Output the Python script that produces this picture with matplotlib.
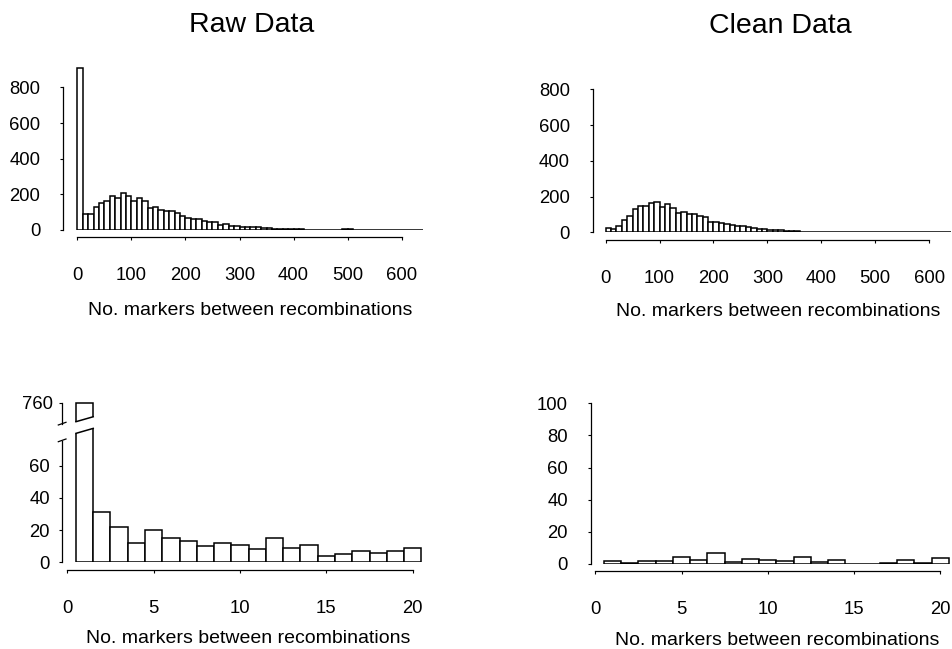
import numpy as np
import matplotlib.pyplot as plt
from matplotlib.patches import Polygon

plt.rcParams['font.family'] = ['Liberation Sans', 'DejaVu Sans']

# histogram data (bins of 10 markers, 0..640)
bin_edges = np.arange(0, 640, 10)
raw_counts = [910, 88, 92, 128, 154, 165, 188, 178, 208, 193,
              165, 178, 162, 122, 128, 111, 109, 105, 98, 78,
              66, 64, 61, 53, 45, 45, 26, 33, 23, 21,
              19, 18, 17, 15, 13, 9, 7, 5, 4, 4,
              3, 3, 2, 2, 2, 1, 1, 2, 2, 4,
              3, 1, 1, 1, 1, 1, 2, 1, 1, 1,
              1, 1, 1, 1]
clean_counts = [26, 19, 35, 67, 93, 130, 149, 149, 166, 170,
                140, 156, 137, 108, 113, 101, 104, 91, 87, 60,
                55, 54, 47, 42, 37, 35, 27, 26, 21, 16,
                14, 13, 11, 9, 8, 6, 4, 3, 3, 3,
                2, 2, 2, 1, 1, 1, 1, 1, 2, 3,
                2, 1, 1, 1, 1, 1, 1, 1, 1, 1,
                1, 1, 1, 1]

# zoom on 1..20 markers
markers = np.arange(1, 21)
raw_small = [760, 31, 22, 12, 20, 15, 13, 10, 12, 11,
             8, 15, 9, 11, 4, 5, 7, 6, 7, 9]
clean_small = [2, 0.8, 1.9, 1.9, 4.6, 2.7, 6.6, 1.5, 2.9, 2.5,
               1.7, 4.4, 1.5, 2.3, 0, 0.3, 0.4, 2.3, 0.6, 3.9]

xlabel = 'No. markers between recombinations'
W, H = 952, 649
bar_kw = dict(facecolor='white', edgecolor='black', linewidth=1.1)


def px_axes(left, bottom, width, height):
    # axes placed in pixel units of the 952x649 figure
    return fig.add_axes([left / W, (H - bottom) / H, width / W, height / H])


def style(ax, xb, yb, ypad):
    ax.spines['top'].set_visible(False)
    ax.spines['right'].set_visible(False)
    ax.spines['bottom'].set_position(('outward', 5.3))
    ax.spines['bottom'].set_bounds(*xb)
    ax.spines['left'].set_bounds(*yb)
    for s in ['bottom', 'left']:
        ax.spines[s].set_linewidth(0.9)
    ax.tick_params(axis='x', length=2.5, width=0.8, pad=19, labelsize=13.3)
    ax.tick_params(axis='y', length=2.5, width=0.8, pad=ypad, labelsize=13.3)


fig = plt.figure(figsize=(9.52, 6.49), dpi=100)

# top left: raw data
ax1 = px_axes(63.3, 230, 360, 164)
ax1.bar(bin_edges, raw_counts, width=10, align='edge', **bar_kw)
ax1.set_xlim(-26, 640)
ax1.set_ylim(0, 920)
style(ax1, (0, 600), (0, 800), 14)
ax1.set_xticks(range(0, 601, 100))
ax1.set_yticks(range(0, 801, 200))
ax1.set_xlabel(xlabel, fontsize=14)
ax1.xaxis.set_label_coords(0.5186, -0.488)
ax1.xaxis.label.set_va('center')

# top right: clean data
ax2 = px_axes(592.7, 232.3, 359.3, 146.6)
ax2.bar(bin_edges, clean_counts, width=10, align='edge', **bar_kw)
ax2.set_xlim(-24.1, 642.5)
ax2.set_ylim(0, 820)
style(ax2, (0, 600), (0, 800), 14)
ax2.set_xticks(range(0, 601, 100))
ax2.set_yticks(range(0, 801, 200))
ax2.set_xlabel(xlabel, fontsize=14)
ax2.xaxis.set_label_coords(0.5157, -0.5416)
ax2.xaxis.label.set_va('center')

# bottom left: raw data, broken y axis
axl = px_axes(61.7, 562.3, 360.5, 135.2)
axu = px_axes(61.7, 424, 360.5, 23)
bars_l = axl.bar(markers, raw_small, width=1, **bar_kw)
bars_u = axu.bar(markers, raw_small, width=1, **bar_kw)
for ax in (axl, axu):
    ax.set_xlim(-0.325, 20.55)
axl.set_ylim(0, 84)
axu.set_ylim(748, 761)
style(axl, (0, 20), (0, 75.5), 6)
axl.set_xticks(range(0, 21, 5))
axl.set_yticks(range(0, 61, 20))
axl.set_xlabel(xlabel, fontsize=14)
axl.xaxis.set_label_coords(0.5168, -0.56)
axl.xaxis.label.set_va('center')

for s in ['top', 'right', 'bottom']:
    axu.spines[s].set_visible(False)
axu.spines['left'].set_bounds(748, 760)
axu.spines['left'].set_linewidth(0.9)
axu.set_xticks([])
axu.set_yticks([760])
axu.tick_params(axis='y', length=2.5, width=0.8, pad=4, labelsize=13.3)

# slanted cut of the tall bar
b = bars_l[0]
x0, x1 = b.get_x(), b.get_x() + b.get_width()
slope_l = (83.2 - 80.1) / (x1 - x0)
clip_l = Polygon([(x0 - 0.2, 0), (x1 + 0.2, 0),
                  (x1 + 0.2, 83.2 + 0.2 * slope_l), (x0 - 0.2, 80.1 - 0.2 * slope_l)],
                 closed=True, transform=axl.transData)
b.set_clip_path(clip_l)
axl.plot([x0, x1], [80.1, 83.2], color='black', lw=1.1)

b = bars_u[0]
slope_u = (752.1 - 749.3) / (x1 - x0)
clip_u = Polygon([(x0 - 0.2, 749.3 - 0.2 * slope_u), (x1 + 0.2, 752.1 + 0.2 * slope_u),
                  (x1 + 0.2, 770), (x0 - 0.2, 770)],
                 closed=True, transform=axu.transData)
b.set_clip_path(clip_u)
axu.plot([x0, x1], [749.3, 752.1], color='black', lw=1.1)

# break marks on the y axis
axu.plot([-0.0094, 0.0119], [-0.043, 0.074], transform=axu.transAxes,
         clip_on=False, color='black', lw=0.9)
axl.plot([-0.0094, 0.0119], [0.892, 0.912], transform=axl.transAxes,
         clip_on=False, color='black', lw=0.9)

# bottom right: clean data
ax4 = px_axes(591, 564, 361, 160.7)
ax4.bar(markers, clean_small, width=1, **bar_kw)
ax4.set_xlim(-0.25, 20.68)
ax4.set_ylim(0, 100)
style(ax4, (0, 20), (0, 100), 14)
ax4.set_xticks(range(0, 21, 5))
ax4.set_yticks(range(0, 101, 20))
ax4.set_xlabel(xlabel, fontsize=14)
ax4.xaxis.set_label_coords(0.515, -0.473)
ax4.xaxis.label.set_va('center')

fig.text(252 / W, 1 - 25 / H, 'Raw Data', fontsize=20.5, ha='center', va='center')
fig.text(780 / W, 1 - 26 / H, 'Clean Data', fontsize=20.5, ha='center', va='center')

fig.savefig('out.png', dpi=100)
